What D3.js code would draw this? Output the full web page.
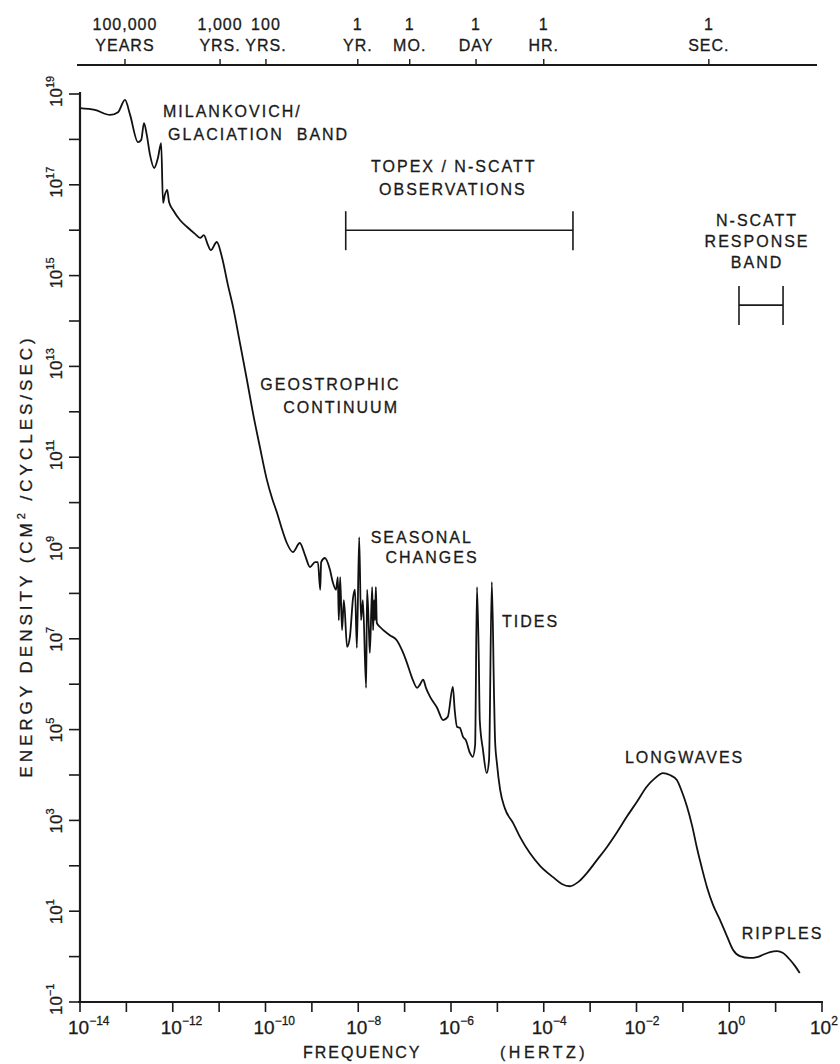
<!DOCTYPE html>
<html>
<head>
<meta charset="utf-8">
<script src="https://cdn.jsdelivr.net/npm/d3@7"></script>
<style>
  body { margin: 0; background: #fff; }
  svg { display: block; }
  text { font-family: "Liberation Sans", Arial, sans-serif; fill: #1a1a1a; stroke: #1a1a1a; stroke-width: 0.3px; }
</style>
</head>
<body>
<svg id="chart" width="840" height="1064"></svg>
<script>
// spectrum (log10 of frequency in Hz, log10 of energy density)
var logFreq = [
  -14.00, -13.68, -13.35, -13.18, -13.03, -12.92, -12.75, -12.68, -12.62, -12.56,
  -12.49, -12.40, -12.32, -12.25, -12.21, -12.17, -12.12, -12.08, -11.99, -11.84,
  -11.69, -11.52, -11.41, -11.33, -11.24, -11.18, -11.05, -10.94, -10.81, -10.70,
  -10.55, -10.40, -10.27, -10.12, -9.97, -9.86, -9.75, -9.64, -9.54, -9.41,
  -9.26, -9.15, -9.04, -8.93, -8.87, -8.82, -8.80, -8.72, -8.61, -8.55,
  -8.48, -8.44, -8.42, -8.39, -8.35, -8.31, -8.24, -8.18, -8.11, -8.07,
  -8.03, -7.98, -7.94, -7.90, -7.83, -7.81, -7.77, -7.75, -7.70, -7.68,
  -7.66, -7.64, -7.62, -7.60, -7.53, -7.32, -7.17, -7.04, -6.95, -6.84,
  -6.73, -6.67, -6.60, -6.54, -6.45, -6.30, -6.17, -6.07, -5.96, -5.92,
  -5.87, -5.81, -5.74, -5.68, -5.59, -5.53, -5.48, -5.44, -5.40, -5.38,
  -5.31, -5.23, -5.18, -5.12, -5.07, -5.05, -5.01, -4.94, -4.84, -4.66,
  -4.51, -4.30, -4.08, -3.80, -3.61, -3.44, -3.26, -3.07, -2.85, -2.64,
  -2.42, -2.21, -1.99, -1.78, -1.60, -1.43, -1.28, -1.13, -1.02, -0.91,
  -0.80, -0.70, -0.59, -0.48, -0.35, -0.20, -0.05, 0.08, 0.23, 0.44,
  0.60, 0.73, 0.88, 1.03, 1.16, 1.31, 1.42, 1.52
];
var logEnergy = [
  18.69, 18.65, 18.54, 18.60, 18.87, 18.54, 17.94, 17.99, 18.36, 18.10,
  17.66, 17.37, 17.59, 17.92, 16.60, 16.78, 16.89, 16.62, 16.44, 16.22,
  16.07, 15.92, 15.83, 15.89, 15.67, 15.56, 15.74, 15.41, 14.79, 14.31,
  13.51, 12.70, 11.97, 11.22, 10.50, 10.10, 9.77, 9.40, 9.11, 8.91,
  9.11, 8.85, 8.58, 8.69, 8.69, 8.08, 8.69, 8.78, 8.52, 8.25,
  8.08, 8.36, 7.41, 8.36, 7.19, 7.85, 6.82, 7.04, 7.92, 8.08,
  6.80, 9.24, 7.41, 7.85, 5.92, 8.08, 7.19, 6.69, 8.14, 7.19,
  7.85, 7.41, 8.14, 7.35, 7.26, 7.08, 6.97, 6.71, 6.47, 6.14,
  5.92, 5.99, 6.10, 5.92, 5.72, 5.48, 5.21, 5.28, 5.94, 5.43,
  5.06, 5.04, 4.84, 4.77, 4.48, 4.40, 4.66, 8.14, 6.53, 5.21,
  4.55, 4.04, 4.33, 8.25, 5.65, 4.77, 4.26, 3.67, 3.27, 2.94,
  2.63, 2.28, 2.00, 1.75, 1.60, 1.55, 1.64, 1.84, 2.13, 2.41,
  2.74, 3.08, 3.41, 3.74, 3.93, 4.04, 4.00, 3.89, 3.63, 3.30,
  2.88, 2.41, 1.95, 1.53, 1.14, 0.81, 0.45, 0.15, 0.01, -0.03,
  -0.01, 0.04, 0.10, 0.12, 0.08, -0.07, -0.21, -0.36
];

// axis ticks
var xTickExp = d3.range(-14, 3);           // every decade, labels on even ones
var xLabelExp = [-14, -12, -10, -8, -6, -4, -2, 0, 2];
var yTickExp = d3.range(-1, 20);
var yLabelExp = [19, 17, 15, 13, 11, 9, 7, 5, 3, 1, -1];

// period scale along the top (position given as log10 Hz, as drawn)
var topTickPos = [-13.03, -10.98, -9.99, -8.01, -6.89, -5.46, -4.00, -0.44];
var topLine1 = ["100,000", "1,000", "100", "1", "1", "1", "1", "1"];
var topLine2 = ["YEARS", "YRS.", "YRS.", "YR.", "MO.", "DAY", "HR.", "SEC."];

// observation bands (log10 Hz range, log10 energy level)
var bandNames = ["TOPEX / N-SCATT", "N-SCATT RESPONSE"];
var bandFrom = [-8.27, 0.21];
var bandTo = [-3.37, 1.16];
var bandLevel = [16.0, 14.35];

// annotations: text, anchor (log10 Hz, log10 energy), alignment
var noteText = ["MILANKOVICH/", "GLACIATION  BAND", "TOPEX / N-SCATT", "OBSERVATIONS",
  "N-SCATT", "RESPONSE", "BAND", "GEOSTROPHIC", "CONTINUUM", "SEASONAL", "CHANGES",
  "TIDES", "LONGWAVES", "RIPPLES"];
var noteFreq = [-12.21, -12.10, -5.94, -5.96, 0.60, 0.60, 0.60, -8.60, -8.37,
  -6.63, -6.41, -4.90, -2.25, 0.27];
var noteEnergy = [18.49, 17.99, 17.28, 16.78, 16.09, 15.63, 15.17, 12.48, 11.97,
  9.11, 8.67, 7.26, 4.26, 0.39];
var noteAlign = ["start", "start", "middle", "middle", "middle", "middle", "middle",
  "middle", "middle", "middle", "middle", "start", "start", "start"];

var svg = d3.select("#chart");
var ink = "#1a1a1a";

var x = d3.scaleLog().domain([1e-14, 1e2]).range([80, 822]);
var y = d3.scaleLog().domain([1e-1, 1e19]).range([1002, 94]);
function px(e) { return x(Math.pow(10, e)); }
function py(e) { return y(Math.pow(10, e)); }

// bottom axis
var gx = svg.append("g").attr("transform", "translate(0,1002)");
gx.append("line").attr("x1", 78).attr("x2", px(2) + 1)
  .attr("stroke", ink).attr("stroke-width", 2.2);
gx.selectAll("line.tick").data(xTickExp).enter().append("line")
  .attr("class", "tick")
  .attr("x1", px).attr("x2", px)
  .attr("y1", 0).attr("y2", 10)
  .attr("stroke", ink).attr("stroke-width", 1.6);
var xl = gx.selectAll("text").data(xLabelExp).enter().append("text")
  .attr("x", function(d) { return px(d) - 12; })
  .attr("y", 32)
  .attr("font-size", 19);
xl.append("tspan").text("10");
xl.append("tspan").attr("dy", -9).attr("font-size", 12)
  .text(function(d) { return d < 0 ? "\u2212" + (-d) : d; });

svg.append("text").attr("x", 303).attr("y", 1058)
  .attr("font-size", 16).attr("letter-spacing", 2).text("FREQUENCY");
svg.append("text").attr("x", 500).attr("y", 1058)
  .attr("font-size", 16).attr("letter-spacing", 3.5).text("(HERTZ)");

// left axis
var gy = svg.append("g").attr("transform", "translate(80,0)");
gy.append("line").attr("y1", 92).attr("y2", 1003)
  .attr("stroke", ink).attr("stroke-width", 2.2);
gy.selectAll("line.tick").data(yTickExp).enter().append("line")
  .attr("class", "tick")
  .attr("y1", py).attr("y2", py)
  .attr("x1", -11).attr("x2", 0)
  .attr("stroke", ink).attr("stroke-width", 1.6);
var yl = svg.selectAll("g.ylab").data(yLabelExp).enter().append("g")
  .attr("class", "ylab")
  .attr("transform", function(d) { return "translate(62," + py(d) + ") rotate(-90)"; });
var ylt = yl.append("text").attr("x", -13).attr("y", 0).attr("font-size", 17);
ylt.append("tspan").text("10");
ylt.append("tspan").attr("dy", -8).attr("font-size", 11)
  .text(function(d) { return d < 0 ? "\u2212" + (-d) : d; });

var yt = svg.append("text")
  .attr("transform", "translate(32,556) rotate(-90)")
  .attr("text-anchor", "middle")
  .attr("font-size", 17)
  .attr("letter-spacing", 4);
yt.append("tspan").text("ENERGY  DENSITY  (CM");
yt.append("tspan").attr("dy", -7).attr("font-size", 11).text("2");
yt.append("tspan").attr("dy", 7).text(" /CYCLES/SEC)");

// top period axis
var gt = svg.append("g");
gt.append("line").attr("x1", 77).attr("x2", 817).attr("y1", 65).attr("y2", 65)
  .attr("stroke", ink).attr("stroke-width", 2);
var tt = gt.selectAll("g.top").data(topTickPos).enter().append("g")
  .attr("class", "top")
  .attr("transform", function(d) { return "translate(" + px(d) + ",0)"; });
tt.append("line").attr("y1", 59).attr("y2", 65)
  .attr("stroke", ink).attr("stroke-width", 1.4);
tt.append("text").attr("y", 30).attr("text-anchor", "middle")
  .attr("font-size", 16).attr("letter-spacing", 1)
  .text(function(d, i) { return topLine1[i]; });
tt.append("text").attr("y", 51).attr("text-anchor", "middle")
  .attr("font-size", 16).attr("letter-spacing", 1)
  .text(function(d, i) { return topLine2[i]; });

// observation bands
var gb = svg.selectAll("g.band").data(bandNames).enter().append("g").attr("class", "band");
gb.append("line")
  .attr("x1", function(d, i) { return px(bandFrom[i]); })
  .attr("x2", function(d, i) { return px(bandTo[i]); })
  .attr("y1", function(d, i) { return py(bandLevel[i]); })
  .attr("y2", function(d, i) { return py(bandLevel[i]); })
  .attr("stroke", ink).attr("stroke-width", 1.6);
[bandFrom, bandTo].forEach(function(arr) {
  gb.append("line")
    .attr("x1", function(d, i) { return px(arr[i]); })
    .attr("x2", function(d, i) { return px(arr[i]); })
    .attr("y1", function(d, i) { return py(bandLevel[i]) - 19; })
    .attr("y2", function(d, i) { return py(bandLevel[i]) + 20; })
    .attr("stroke", ink).attr("stroke-width", 1.6);
});

// spectrum curve
var pts = logFreq.map(function(f, i) { return [px(f), py(logEnergy[i])]; });
var line = d3.line().curve(d3.curveMonotoneX);
svg.append("path")
  .attr("d", line(pts))
  .attr("fill", "none")
  .attr("stroke", "#111")
  .attr("stroke-width", 1.8)
  .attr("stroke-linejoin", "round");

// annotations
svg.selectAll("text.note").data(noteText).enter().append("text")
  .attr("class", "note")
  .attr("x", function(d, i) { return px(noteFreq[i]); })
  .attr("y", function(d, i) { return py(noteEnergy[i]); })
  .attr("text-anchor", function(d, i) { return noteAlign[i]; })
  .attr("font-size", 16)
  .attr("letter-spacing", 2)
  .style("white-space", "pre")
  .text(function(d) { return d; });
</script>
</body>
</html>
